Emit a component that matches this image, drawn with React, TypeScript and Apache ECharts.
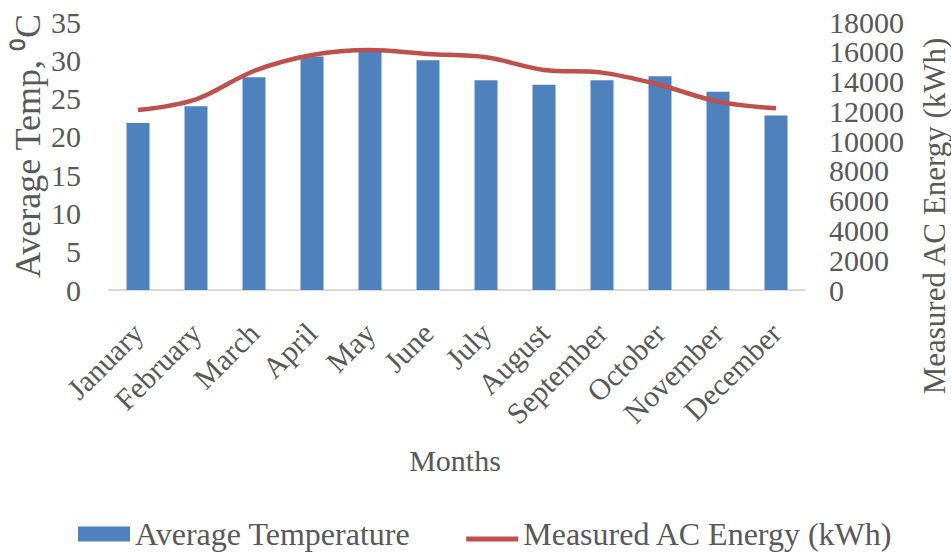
import React, { useEffect, useRef } from "react";
import * as echarts from "echarts";

const months = [
  "January", "February", "March", "April", "May", "June",
  "July", "August", "September", "October", "November", "December",
];
const avgTemperature = [21.8, 24.0, 27.8, 30.5, 31.2, 30.0, 27.4, 26.8, 27.4, 27.9, 25.9, 22.8];
const acEnergy = [12090, 12810, 14710, 15780, 16120, 15850, 15630, 14780, 14600, 13770, 12650, 12200];

const FONT = "'Liberation Serif', 'Times New Roman', serif";
const TXT = "#595959";

const rightAxis = (parity: number, showMin: boolean, showMax: boolean) => ({
  type: "value",
  min: 0,
  max: 18000,
  interval: 2000,
  position: "right",
  splitLine: { show: false },
  axisLine: { show: false },
  axisTick: { show: false },
  axisLabel: {
    margin: 24, fontFamily: FONT, fontSize: 30, color: TXT,
    showMinLabel: showMin, showMaxLabel: showMax,
    formatter: (v: number) => ((v / 2000) % 2 === parity ? String(v) : ""),
  },
});

export default function App() {
  const ref = useRef<HTMLDivElement>(null);
  useEffect(() => {
    if (!ref.current) return;
    const chart = echarts.init(ref.current, undefined, { renderer: "svg" });
    chart.setOption({
      animation: false,
      textStyle: { fontFamily: FONT },
      grid: { left: 109, right: 146, top: 22, bottom: 262, containLabel: false },
      legend: {
        left: 73,
        top: 513,
        itemWidth: 52,
        itemHeight: 15,
        itemGap: 56,
        symbolKeepAspect: true,
        textStyle: { fontFamily: FONT, fontSize: 32, lineHeight: 32, color: TXT },
        data: [
          { name: "Average Temperature", icon: "rect" },
          { name: "Measured AC Energy (kWh)", icon: "path://M0,0H0.1V0.1H0Z M0,10H52V15H0Z" },
        ],
      },
      xAxis: {
        type: "category",
        data: months,
        axisLine: { lineStyle: { color: "#D9D9D9", width: 2 } },
        axisTick: { show: false },
        axisLabel: {
          rotate: 45,
          interval: 0,
          margin: 38,
          fontFamily: FONT,
          fontSize: 30,
          color: TXT,
        },
      },
      yAxis: [
        {
          type: "value",
          min: 0,
          max: 35,
          interval: 5,
          splitLine: { show: false },
          axisLine: { show: false },
          axisTick: { show: false },
          axisLabel: {
            margin: 28, fontFamily: FONT, fontSize: 30, lineHeight: 24, color: TXT,
            showMinLabel: true, showMaxLabel: true,
          },
        },
        rightAxis(0, true, false),
        rightAxis(1, false, true),
      ],
      graphic: [
        {
          type: "text",
          x: 28,
          y: 146,
          rotation: Math.PI / 2,
          style: {
            text: "Average Temp, ⁰C",
            fontFamily: FONT,
            fontSize: 36,
            fill: TXT,
            align: "center",
            verticalAlign: "middle",
          },
        },
        {
          type: "text",
          x: 934,
          y: 216,
          rotation: Math.PI / 2,
          style: {
            text: "Measured AC Energy (kWh)",
            fontFamily: FONT,
            fontSize: 31,
            fill: TXT,
            align: "center",
            verticalAlign: "middle",
          },
        },
        {
          type: "text",
          x: 455,
          y: 460,
          style: {
            text: "Months",
            fontFamily: FONT,
            fontSize: 30,
            fill: TXT,
            align: "center",
            verticalAlign: "middle",
          },
        },
      ],
      series: [
        {
          name: "Average Temperature",
          type: "bar",
          data: avgTemperature,
          barWidth: 23,
          itemStyle: { color: "#4F81BD" },
          yAxisIndex: 0,
        },
        {
          name: "Measured AC Energy (kWh)",
          type: "line",
          data: acEnergy,
          yAxisIndex: 1,
          smooth: 0.35,
          symbol: "none",
          lineStyle: { color: "#C0504D", width: 4.5 },
          itemStyle: { color: "#C0504D" },
        },
      ],
    });
    return () => chart.dispose();
  }, []);
  return <div ref={ref} style={{ width: 951, height: 552, position: "absolute", left: 0, top: 0 }} />;
}
